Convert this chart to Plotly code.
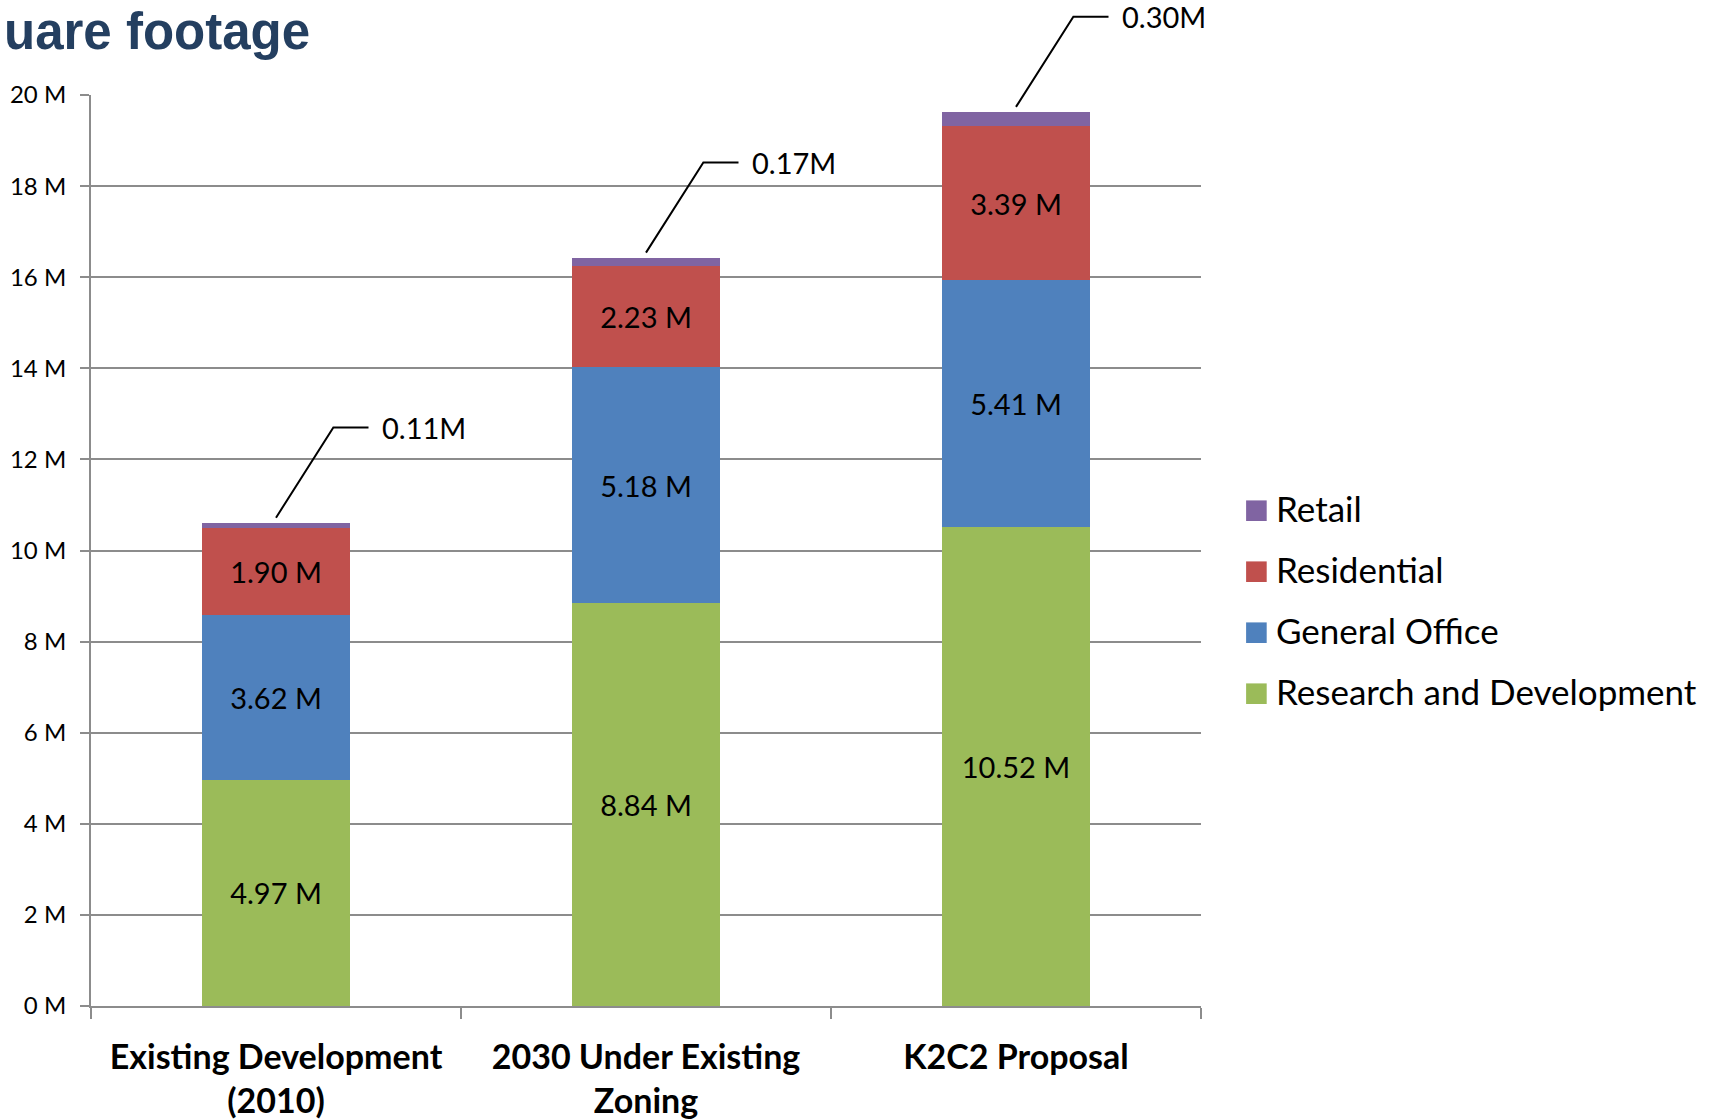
import plotly.graph_objects as go

# ---------------- data ----------------
categories = ["Existing Development<br>(2010)", "2030 Under Existing<br>Zoning", "K2C2 Proposal"]
series_names = ["Research and Development", "General Office", "Residential", "Retail"]
research_dev = [4.97, 8.84, 10.52]
general_office = [3.62, 5.18, 5.41]
residential = [1.90, 2.23, 3.39]
retail = [0.11, 0.17, 0.30]
y_tick_values = [0, 2, 4, 6, 8, 10, 12, 14, 16, 18, 20]
y_tick_labels = ["0 M", "2 M", "4 M", "6 M", "8 M", "10 M", "12 M", "14 M", "16 M", "18 M", "20 M"]
title_text = "uare footage"

# ---------------- style ----------------
colors = {"Research and Development": "#9BBB59", "General Office": "#4F81BD",
          "Residential": "#C0504D", "Retail": "#8064A2"}
FONT = "Lato"
GRID = "#8c8c8c"
W, H = 1711, 1119
L, R, T, B = 91, 510, 0, 113
PW, PH = W - L - R, H - T - B          # plot area (paper) in pixels
AXIS_TOP_PX = 95                        # pixel row of the 20 M gridline
main_frac = (H - B - AXIS_TOP_PX) / PH  # fraction of paper height used by the main y axis
Y_MAX = 20


def px_x(p):
    return (p - L) / PW


def px_y(p):
    return (H - B - p) / PH


x_pos = list(range(len(categories)))
values = {"Research and Development": research_dev, "General Office": general_office,
          "Residential": residential, "Retail": retail}

fig = go.Figure()
for name in series_names:
    vals = values[name]
    labels = [f"{v:.2f} M" for v in vals] if name != "Retail" else ["" for _ in vals]
    fig.add_trace(go.Bar(
        x=x_pos, y=vals, name=name, marker=dict(color=colors[name], line=dict(width=0)),
        text=labels, textposition="inside", insidetextanchor="middle", textangle=0,
        textfont=dict(family=FONT, size=29, color="black"), showlegend=False,
        hoverinfo="skip",
    ))

# leader lines + retail labels (drawn on a twin y scale that spans the full height)
totals = [a + b + c + d for a, b, c, d in zip(research_dev, general_office, residential, retail)]
for i, tot in enumerate(totals):
    yk = tot + 2.1
    fig.add_trace(go.Scatter(
        x=[x_pos[i], x_pos[i] + 0.155, x_pos[i] + 0.25], y=[tot + 0.12, yk, yk],
        xaxis="x", yaxis="y2",
        mode="lines", line=dict(color="black", width=2), cliponaxis=False,
        showlegend=False, hoverinfo="skip",
    ))
    fig.add_annotation(x=x_pos[i] + 0.28, y=yk, xref="x", yref="y2", text=f"{retail[i]:.2f}M",
                       showarrow=False, xanchor="left", yanchor="middle",
                       font=dict(family=FONT, size=29, color="black"))

# manual legend
leg_items = ["Retail", "Residential", "General Office", "Research and Development"]
for k, name in enumerate(leg_items):
    cy = 510.7 + k * 61
    fig.add_shape(type="rect", xref="paper", yref="paper", xsizemode="pixel", ysizemode="pixel",
                  xanchor=px_x(1256.4), yanchor=px_y(cy), x0=-10.3, x1=10.3, y0=-10.3, y1=10.3,
                  fillcolor=colors[name], line=dict(width=0))
    fig.add_annotation(x=px_x(1274), y=px_y(cy - 3), xref="paper", yref="paper", text=name,
                       showarrow=False, xanchor="left", yanchor="middle",
                       font=dict(family=FONT, size=35, color="black"))

# title
fig.add_annotation(x=px_x(2), y=px_y(31), xref="paper", yref="paper", text=title_text,
                   showarrow=False, xanchor="left", yanchor="middle",
                   font=dict(family="Liberation Sans", size=51, color="#243F60", weight="bold"))

fig.update_layout(
    width=W, height=H, margin=dict(l=L, r=R, t=T, b=B, autoexpand=False),
    barmode="stack", bargap=0.6, plot_bgcolor="rgba(0,0,0,0)", paper_bgcolor="white",
    showlegend=False, hovermode=False,
    font=dict(family=FONT, color="black"),
    yaxis2=dict(domain=[0, 1], range=[0, Y_MAX / main_frac], anchor="x", visible=False,
                showgrid=False, zeroline=False, fixedrange=True),
)
fig.update_xaxes(
    range=[-0.5, 2.5], tickvals=x_pos, ticktext=categories, ticks="outside", ticklen=0,
    tickfont=dict(family=FONT, size=34, color="black", weight="bold"),
    showline=True, linecolor=GRID, linewidth=2, showgrid=False, zeroline=False,
    minor=dict(tickvals=[-0.5, 0.5, 1.5, 2.5], ticks="outside", ticklen=11, tickwidth=2,
               tickcolor=GRID, showgrid=False),
    automargin=False, ticklabelstandoff=20,
)
fig.update_layout(yaxis=dict(
    domain=[0, main_frac], range=[0, Y_MAX], tickvals=y_tick_values, ticktext=y_tick_labels,
    ticks="outside", ticklen=9, tickwidth=2, tickcolor=GRID,
    tickfont=dict(family=FONT, size=24, color="black"),
    showline=True, linecolor=GRID, linewidth=2, showgrid=True, gridcolor=GRID, gridwidth=1.5,
    zeroline=False, automargin=False, ticklabelstandoff=9,
))

fig.write_html("out.html")
